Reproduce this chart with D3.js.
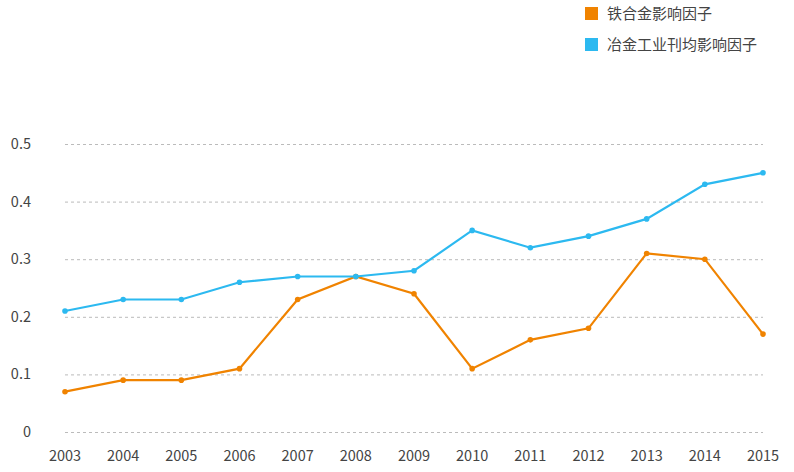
<!DOCTYPE html>
<html><head><meta charset="utf-8">
<script src="https://cdn.jsdelivr.net/npm/d3@7"></script>
<style>body{margin:0;background:#fff;} text{font-family:"Noto Sans CJK SC","Noto Sans",sans-serif;}</style>
</head><body><svg id="c" width="794" height="472"></svg>
<script>
const years = ["2003","2004","2005","2006","2007","2008","2009","2010","2011","2012","2013","2014","2015"];
const ferroAlloy = [0.07,0.09,0.09,0.11,0.23,0.27,0.24,0.11,0.16,0.18,0.31,0.30,0.17];
const metallurgy = [0.21,0.23,0.23,0.26,0.27,0.27,0.28,0.35,0.32,0.34,0.37,0.43,0.45];
const yTicks = [0,0.1,0.2,0.3,0.4,0.5];
const seriesNames = ["铁合金影响因子","冶金工业刊均影响因子"];
const colors = ["#f08300","#2cb9f0"];

const svg = d3.select("#c");
const x = d3.scalePoint().domain(years).range([65,763]);
const y = d3.scaleLinear().domain([0,0.5]).range([432,144]);

// grid
svg.append("g").selectAll("line").data(yTicks).join("line")
  .attr("x1",65).attr("x2",763).attr("y1",d=>y(d)+0.5).attr("y2",d=>y(d)+0.5)
  .attr("stroke","#bbb").attr("stroke-dasharray","3,3").attr("stroke-width",1);

// y labels
svg.append("g").selectAll("text").data(yTicks).join("text")
  .attr("x",31).attr("y",d=>y(d)).attr("dy","0.35em").attr("text-anchor","end")
  .attr("font-size",14.5).attr("fill","#444").text(d=>d===0?"0":d3.format(".1f")(d));

// x labels
svg.append("g").selectAll("text").data(years).join("text")
  .attr("x",d=>x(d)).attr("y",456).attr("dy","0.35em").attr("text-anchor","middle")
  .attr("font-size",14.5).attr("fill","#444").text(d=>d);

const line = d3.line().x((d,i)=>x(years[i])).y(d=>y(d));
[ferroAlloy, metallurgy].forEach((s,k)=>{
  const g = svg.append("g");
  g.append("path").attr("d",line(s)).attr("fill","none").attr("stroke",colors[k]).attr("stroke-width",2.2);
  g.selectAll("circle").data(s).join("circle").attr("cx",(d,i)=>x(years[i])).attr("cy",d=>y(d)).attr("r",2.8).attr("fill",colors[k]);
});

// legend
const lg = svg.append("g");
seriesNames.forEach((n,k)=>{
  lg.append("rect").attr("x",585).attr("y",7+k*31).attr("width",13).attr("height",13).attr("fill",colors[k]);
  lg.append("text").attr("x",607).attr("y",14+k*31).attr("dy","0.35em").attr("font-size",15).attr("fill","#444").text(n);
});
</script></body></html>
